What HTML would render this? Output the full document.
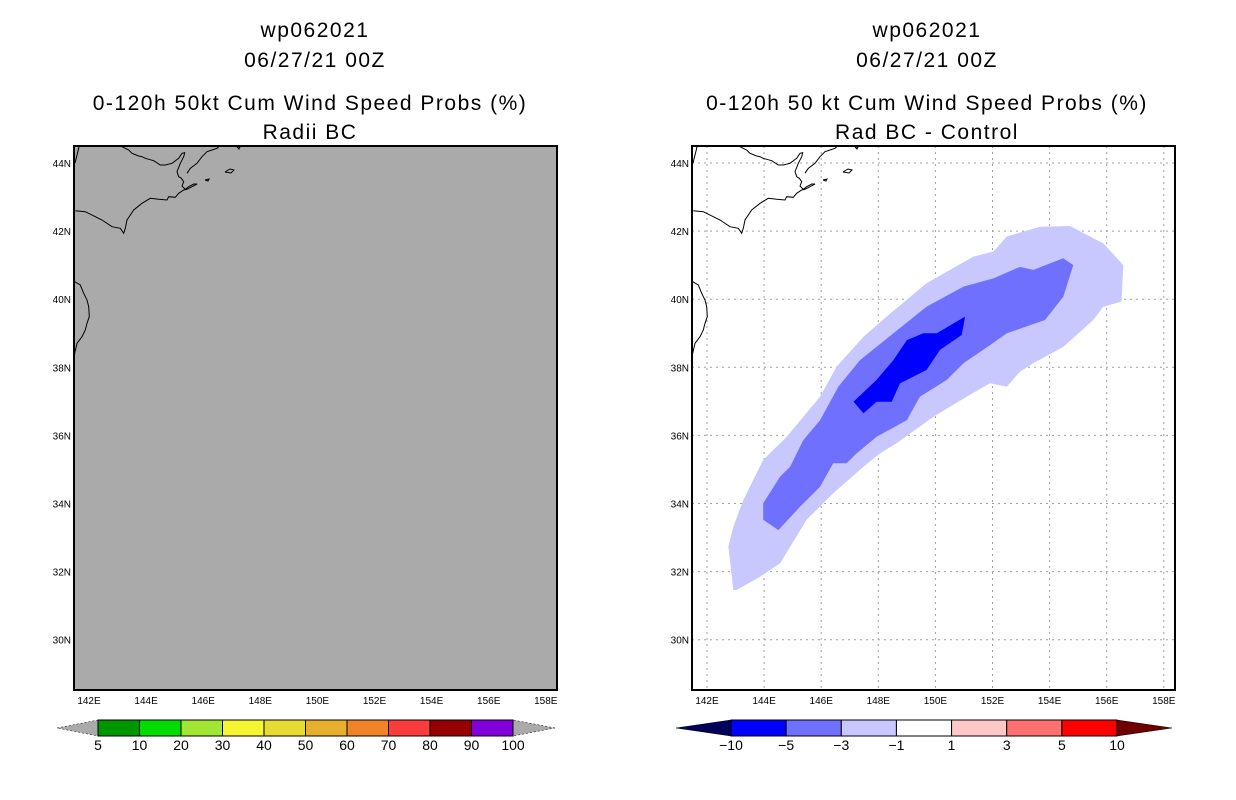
<!DOCTYPE html>
<html><head><meta charset="utf-8"><style>
body{margin:0;background:#fff;width:1236px;height:800px;overflow:hidden}
svg{display:block}
text{font-family:"Liberation Sans",sans-serif}
.t{font-size:21px;letter-spacing:1.5px}
.tk{font-size:10px}
.cb{font-size:14px}
</style></head><body>
<svg id="s" width="1236" height="800">
<g>
<text class="t" x="315" y="37" text-anchor="middle">wp062021</text>
<text class="t" x="315" y="67" text-anchor="middle">06/27/21 00Z</text>
<text class="t" x="310" y="110" text-anchor="middle">0-120h 50kt Cum Wind Speed Probs (%)</text>
<text class="t" x="310" y="139" text-anchor="middle">Radii BC</text>
</g>
<g>
<text class="t" x="927" y="37" text-anchor="middle">wp062021</text>
<text class="t" x="927" y="67" text-anchor="middle">06/27/21 00Z</text>
<text class="t" x="927" y="110" text-anchor="middle">0-120h 50 kt Cum Wind Speed Probs (%)</text>
<text class="t" x="927" y="139" text-anchor="middle">Rad BC - Control</text>
</g>
<rect x="74" y="146" width="483" height="544" fill="#aaaaaa"/>
<rect x="692" y="146" width="483" height="544" fill="#fff"/>
<g id="grid"></g>
<g id="contours"></g>
<g id="coastR" fill="none" stroke="#000" stroke-width="1"></g>
<g id="coastL" fill="none" stroke="#000" stroke-width="1" transform="translate(-618,0)"></g>
<rect x="74" y="146" width="483" height="544" fill="none" stroke="#000" stroke-width="2"/>
<rect x="692" y="146" width="483" height="544" fill="none" stroke="#000" stroke-width="2"/>
<g id="ticks"></g>
<g id="cbL"></g>
<g id="cbR"></g>
</svg>
<script>
const lonTicks=[142,144,146,148,150,152,154,156,158];
const latTicks=[30,32,34,36,38,40,42,44];
const outerLon=[142.92,142.75,142.92,143.27,143.97,144.79,145.96,146.54,147.48,148.29,149.69,151.33,152.03,152.50,153.66,154.71,155.88,156.58,156.52,155.88,155.53,154.48,153.43,152.96,152.50,151.91,151.10,149.93,148.64,148.06,147.48,146.42,145.49,144.56,143.86,143.04];
const outerLat=[31.46,32.73,33.32,34.10,35.28,35.96,37.14,38.02,38.90,39.49,40.47,41.25,41.40,41.84,42.13,42.15,41.64,41.00,39.93,39.78,39.39,38.60,38.12,37.87,37.43,37.53,37.14,36.55,35.77,35.47,35.08,34.30,33.52,32.24,31.85,31.46];
const midLon=[143.97,143.97,144.56,144.91,145.37,145.96,146.60,147.36,148.53,149.69,150.98,152.03,152.96,153.43,154.48,154.83,154.48,153.84,152.50,151.91,150.98,150.40,149.46,149.00,147.94,147.24,146.89,146.42,145.96,145.26,144.50];
const midLat=[33.52,34.01,34.79,35.08,35.86,36.45,37.43,38.21,39.00,39.78,40.37,40.61,40.95,40.86,41.20,41.00,40.07,39.39,39.00,38.65,38.12,37.63,37.14,36.45,35.96,35.47,35.18,35.18,34.49,33.91,33.22];
const innerLon=[147.13,147.94,148.53,149.00,149.58,150.05,151.04,150.92,150.16,149.69,148.76,148.47,147.94,147.48];
const innerLat=[36.99,37.63,38.21,38.80,39.00,39.00,39.49,38.95,38.51,37.92,37.53,36.99,36.99,36.65];
const cbLLabels=["5","10","20","30","40","50","60","70","80","90","100"];
const cbLColors=["#009600","#00dc00","#a0e632","#f5f532","#e6dc32","#e6af2d","#f08228","#fa3c3c","#960000","#8200dc"];
const cbRLabels=["-10","-5","-3","-1","1","3","5","10"];
const cbRColors=["#0000ff","#7070ff","#c8c8ff","#ffffff","#ffc8c8","#ff7070","#ff0000"];

const NS="http://www.w3.org/2000/svg";
function mk(tag,attrs,parent){const e=document.createElementNS(NS,tag);for(const k in attrs)e.setAttribute(k,attrs[k]);parent.appendChild(e);return e;}
function xR(lon){return 707+(lon-142)*28.55;}
function yR(lat){return 163+(44-lat)*34.05;}
const grid=document.getElementById('grid');
lonTicks.forEach(l=>{const e=mk('line',{x1:xR(l),x2:xR(l),y1:146,y2:690,stroke:'#a0a0a0','stroke-dasharray':'2,4'},grid);

});
latTicks.forEach(l=>{const e=mk('line',{x1:692,x2:1175,y1:yR(l),y2:yR(l),stroke:'#a0a0a0','stroke-dasharray':'2,4'},grid);

});
const cont=document.getElementById('contours');
function poly(lons,lats,fill,name){const pts=lons.map((l,i)=>xR(l).toFixed(1)+','+yR(lats[i]).toFixed(1)).join(' ');
const e=mk('polygon',{points:pts,fill:fill},cont);

}
poly(outerLon,outerLat,'#c8c8ff','contour-minus1');
poly(midLon,midLat,'#7070ff','contour-minus3');
poly(innerLon,innerLat,'#0000ff','contour-minus5');

const coasts=[
"693.3,210.7 703.3,211.7 713.3,216.7 720,220 730,226.7 738.3,228.3 741.7,233.3 743.3,228.3 745,220 751.7,210 760,203.3 768.3,198.3 776.7,199.3 785,200 786.7,196.7 793.3,197.3 796.7,193.3 801.7,190 805,189.3 810,186.7 815,184 811.7,184 806.7,186.7 803.3,189.3 800,186 801.7,181.7 799.3,178.3 796.7,176.7 795,171.7 798.3,163.3 801.7,156.7 802.7,152.7 800,153.3 796.7,158.3 790,163.3 783.3,165 778.3,165 771.7,160.7 766.7,159.3 763.3,158.3 760,156.7 756.7,156 750,153.3 746.7,150 740,146.7",
"805,173.3 808.3,168.3 815,163.3 820,156.7 825,151.7 830,150 835,148.3 836.7,146.7",
"692.7,281.7 698.3,285 701.7,293.3 705,300 706.7,306.7 707.3,316.7 705,323.3 703.3,330 700,336.7 695,343.3 692.7,353.3 691.7,360",
"697,147 695,155 693,163",
"843,172 848,169 852,170 849,173 843,172",
"823,180 827,179 826,181 823,180",
"855,147 858,147 857,149 855,147"];
['coastR','coastL'].forEach(id=>{const g=document.getElementById(id);coasts.forEach(c=>{const e=mk('polyline',{points:c},g);

});});

const ticks=document.getElementById('ticks');
[0,-618].forEach(off=>{
lonTicks.forEach(l=>{const e=mk('text',{x:xR(l)+off,y:704,'text-anchor':'middle',class:'tk'},ticks);e.textContent=l+'E';

});
latTicks.forEach(l=>{const e=mk('text',{x:689+off,y:yR(l)+4,'text-anchor':'end',class:'tk'},ticks);e.textContent=l+'N';

});});

function colorbar(g,x0,x1,tipL,tipR,colors,labels,leftTip,rightTip,labelOffset){
const n=colors.length,w=(x1-x0)/n,y0=720,y1=736,ym=728;
mk('polygon',{points:`${tipL},${ym} ${x0},${y0} ${x0},${y1}`,fill:leftTip,stroke:'#000','stroke-width':0.5,'stroke-dasharray':leftTip=='#aaaaaa'?'2,2':''},g);
mk('polygon',{points:`${tipR},${ym} ${x1},${y0} ${x1},${y1}`,fill:rightTip,stroke:'#000','stroke-width':0.5,'stroke-dasharray':rightTip=='#aaaaaa'?'2,2':''},g);
colors.forEach((c,i)=>{const r=mk('rect',{x:x0+i*w,y:y0,width:w,height:y1-y0,fill:c,stroke:'#000','stroke-width':1},g);

});
labels.forEach((t,i)=>{const e=mk('text',{x:x0+(i+labelOffset)*w,y:750,'text-anchor':'middle',class:'cb'},g);e.textContent=t.replace('-','\u2212');

});}
colorbar(document.getElementById('cbL'),98,513,57,555,cbLColors,cbLLabels,'#aaaaaa','#aaaaaa',0);
colorbar(document.getElementById('cbR'),731,1117,676,1172,cbRColors,cbRLabels,'#00005a','#6e0000',0);
</script>
</body></html>
